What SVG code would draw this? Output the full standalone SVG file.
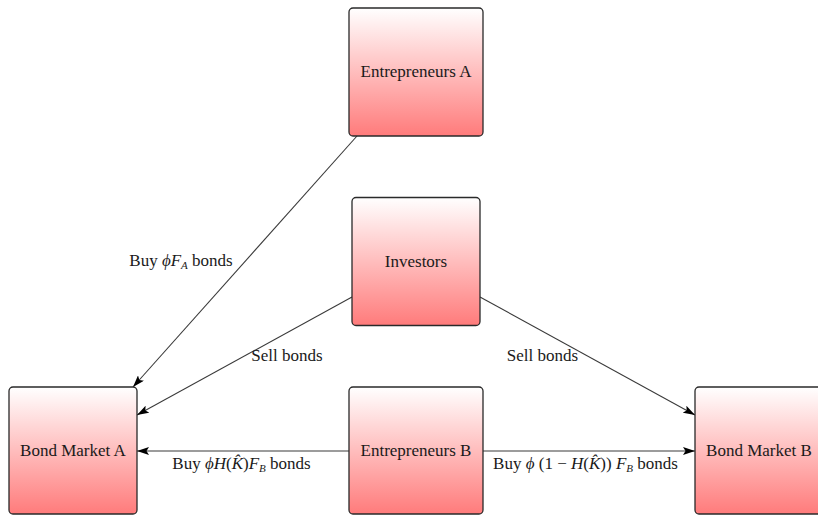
<svg xmlns="http://www.w3.org/2000/svg" width="818" height="515" viewBox="0 0 818 515">
<defs>
<linearGradient id="g" x1="0" y1="0" x2="0" y2="1">
<stop offset="0" stop-color="#ffffff"/>
<stop offset="1" stop-color="#ff7b7b"/>
</linearGradient>
<marker id="ah" viewBox="0 0 12 8" refX="12" refY="4" markerWidth="12" markerHeight="8" markerUnits="userSpaceOnUse" orient="auto">
<path d="M0,0 L12,4 L0,8 L2.5,4 z" fill="#000"/>
</marker>
</defs>
<style>
.box{fill:url(#g);stroke:#2a2a2a;stroke-width:1.3}
.lbl{font-family:"Liberation Serif","Times New Roman",serif;font-size:17px;fill:#1a1a1a}
.nl{text-anchor:middle}
.edge{stroke:#3a3a3a;stroke-width:1.1;fill:none;marker-end:url(#ah)}
.it{font-style:italic}
.sub{font-size:11px;font-style:italic}
</style>
<rect width="818" height="515" fill="#ffffff"/>
<g id="connectors">
<line class="edge" x1="357" y1="136" x2="133" y2="387"/>
<line class="edge" x1="352" y1="297" x2="137" y2="415"/>
<line class="edge" x1="480" y1="297" x2="695" y2="415"/>
<line class="edge" x1="349" y1="451" x2="137" y2="451"/>
<line class="edge" x1="483" y1="451" x2="695" y2="451"/>
<text class="lbl nl" x="181" y="266">Buy <tspan class="it">ϕF</tspan><tspan class="sub" dy="3">A</tspan><tspan dy="-3"> bonds</tspan></text>
<text class="lbl nl" x="287" y="361">Sell bonds</text>
<text class="lbl nl" x="542.5" y="361">Sell bonds</text>
<text class="lbl nl" x="241.5" y="469">Buy <tspan class="it">ϕH</tspan>(<tspan class="it">K̂</tspan>)<tspan class="it">F</tspan><tspan class="sub" dy="3">B</tspan><tspan dy="-3"> bonds</tspan></text>
<text class="lbl nl" x="585.5" y="469">Buy <tspan class="it">ϕ</tspan> (1 − <tspan class="it">H</tspan>(<tspan class="it">K̂</tspan>)) <tspan class="it">F</tspan><tspan class="sub" dy="3">B</tspan><tspan dy="-3"> bonds</tspan></text>
</g>
<g id="entrepreneurs-a">
<rect class="box" x="349" y="8" width="134" height="128" rx="4"/>
<text class="lbl nl" x="416" y="77">Entrepreneurs A</text>
</g>
<g id="investors">
<rect class="box" x="352" y="197.5" width="128" height="128" rx="4"/>
<text class="lbl nl" x="416" y="267">Investors</text>
</g>
<g id="bond-market-a">
<rect class="box" x="9" y="387" width="128" height="127" rx="4"/>
<text class="lbl nl" x="73" y="456">Bond Market A</text>
</g>
<g id="entrepreneurs-b">
<rect class="box" x="349" y="387" width="134" height="127" rx="4"/>
<text class="lbl nl" x="416" y="456">Entrepreneurs B</text>
</g>
<g id="bond-market-b">
<rect class="box" x="695" y="387" width="128" height="127" rx="4"/>
<text class="lbl nl" x="759" y="456">Bond Market B</text>
</g>
</svg>
